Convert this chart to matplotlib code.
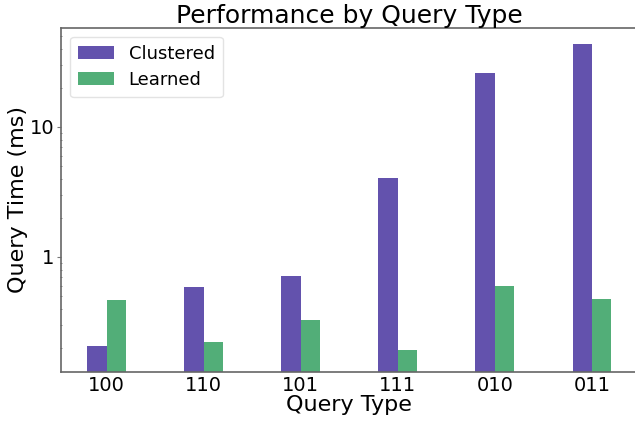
import matplotlib
matplotlib.use("Agg")
import matplotlib.pyplot as plt
import numpy as np

# ── Data ──────────────────────────────────────────────────────────────────────
query_types = ["100", "110", "101", "111", "010", "011"]
clustered = [0.207, 0.588, 0.714, 4.05, 26.0, 43.5]
learned = [0.467, 0.222, 0.327, 0.193, 0.598, 0.475]

# ── Plot ──────────────────────────────────────────────────────────────────────
fig = plt.figure(figsize=(6.35, 4.22), dpi=100)
ax = fig.add_axes([0.096, 0.119, 0.908, 0.815])

x = np.arange(len(query_types))
width = 0.2
ax.bar(x - width / 2, clustered, width, label="Clustered", color="#6352AD")
ax.bar(x + width / 2, learned, width, label="Learned", color="#52AE78")

ax.set_yscale("log")
ax.set_ylim(0.131, 57.8)
ax.set_xlim(-0.47, 5.47)
ax.set_yticks([1, 10])
ax.set_yticklabels(["1", "10"])

ax.set_xticks(x)
ax.set_xticklabels(query_types)
ax.tick_params(axis="x", length=0, labelsize=14, pad=3)
ax.tick_params(axis="y", which="major", length=3, labelsize=14, pad=2, color="#777777")
ax.tick_params(axis="y", which="minor", length=2, direction="inout", color="#777777")

for s in ax.spines.values():
    s.set_color("#666666")
    s.set_linewidth(1.2)

ax.set_xlabel("Query Type", fontsize=16, labelpad=0)
ax.set_ylabel("Query Time (ms)", fontsize=16, labelpad=1)
ax.set_title("Performance by Query Type", fontsize=18, pad=3)

leg = ax.legend(loc="upper left", fontsize=13, handlelength=2.0, borderpad=0.45,
                labelspacing=0.45)
leg.get_frame().set_edgecolor("#dddddd")

fig.savefig("out.png", dpi=100)
